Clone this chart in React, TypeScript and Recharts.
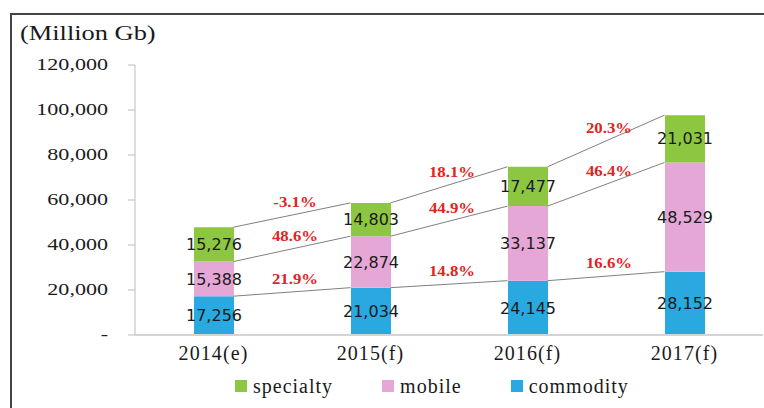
import React from "react"
import {
  ComposedChart,
  Bar,
  XAxis,
  YAxis,
  LabelList,
  ReferenceLine,
  Legend,
} from "recharts"

const categories = ["2014(e)", "2015(f)", "2016(f)", "2017(f)"]
const commodity = [17256, 21034, 24145, 28152]
const mobile = [15388, 22874, 33137, 48529]
const specialty = [15276, 14803, 17477, 21031]
const commodityGrowth = ["21.9%", "14.8%", "16.6%"]
const mobileGrowth = ["48.6%", "44.9%", "46.4%"]
const specialtyGrowth = ["-3.1%", "18.1%", "20.3%"]
const yTicks = [0, 20000, 40000, 60000, 80000, 100000, 120000]

const COLORS = { specialty: "#8dc641", mobile: "#e5a7d6", commodity: "#2aa9e0" }

const CHART_W = 764
const CHART_H = 408
const MARGIN = { top: 65, right: 1, left: 0, bottom: 10 }
const Y_AXIS_W = 135
const BAR_SIZE = 40
// half a bar, in x-axis units (one unit = one category band)
const BAND = (CHART_W - MARGIN.left - MARGIN.right - Y_AXIS_W) / categories.length
const HALF = BAR_SIZE / 2 / BAND

const data = categories.map((name, i) => ({
  idx: i,
  name,
  commodity: commodity[i],
  mobile: mobile[i],
  specialty: specialty[i],
}))

const commodityTop = commodity
const mobileTop = commodity.map((v, i) => v + mobile[i])
const totalTop = mobileTop.map((v, i) => v + specialty[i])

const levels = [
  { key: "c", tops: commodityTop, growth: commodityGrowth },
  { key: "m", tops: mobileTop, growth: mobileGrowth },
  { key: "s", tops: totalTop, growth: specialtyGrowth },
]

const fmt = (v: number) => v.toLocaleString("en-US")

function YTick({ x, y, payload }: any) {
  const label = payload.value === 0 ? "-" : fmt(payload.value)
  return (
    <text
      transform={`translate(${x - 18},${y}) scale(1.38,1)`}
      textAnchor="end"
      dominantBaseline="central"
      fontFamily="Liberation Serif"
      fontSize={16}
      fill="#1a1a1a"
    >
      {label}
    </text>
  )
}

function XTick({ x, y, payload }: any) {
  return (
    <text
      x={x}
      y={y}
      dy={17}
      textAnchor="middle"
      fontFamily="Liberation Serif"
      fontSize={20}
      letterSpacing={1.1}
      fill="#1a1a1a"
    >
      {categories[payload.value]}
    </text>
  )
}

function PctLabel({ viewBox, text }: any) {
  const cx = viewBox.x + viewBox.width / 2
  const cy = viewBox.y + viewBox.height / 2
  return (
    <text
      transform={`translate(${cx + 3},${cy - 13}) scale(1.12,1)`}
      textAnchor="middle"
      dominantBaseline="central"
      fontFamily="Liberation Serif"
      fontWeight="bold"
      fontSize={15}
      fill="#e3231e"
    >
      {text}
    </text>
  )
}

const legendItems = [
  { key: "specialty", color: COLORS.specialty },
  { key: "mobile", color: COLORS.mobile },
  { key: "commodity", color: COLORS.commodity },
]

function LegendContent() {
  return (
    <div
      style={{
        height: 24,
        display: "flex",
        alignItems: "center",
        paddingLeft: 235,
        gap: 49,
        fontFamily: "Liberation Serif",
        fontSize: 20,
        letterSpacing: 1,
        color: "#1a1a1a",
      }}
    >
      {legendItems.map((it) => (
        <span key={it.key} style={{ display: "flex", alignItems: "center", gap: 6 }}>
          <span style={{ width: 12, height: 12, background: it.color, display: "inline-block" }} />
          {it.key}
        </span>
      ))}
    </div>
  )
}

export default function App() {
  return (
    <div style={{ position: "absolute", left: 0, top: 0, width: CHART_W, height: CHART_H, background: "#fff" }}>
      <div
        style={{
          position: "absolute",
          left: 10,
          top: 13,
          width: CHART_W - 10,
          height: CHART_H - 13,
          borderLeft: "2px solid #444",
          borderTop: "2px solid #444",
        }}
      />
      <div
        style={{
          position: "absolute",
          left: 20,
          top: 21,
          lineHeight: "24px",
          fontFamily: "Liberation Serif",
          fontSize: 22,
          color: "#1a1a1a",
          transform: "scaleX(1.2)",
          transformOrigin: "left center",
        }}
      >
        (Million Gb)
      </div>
      <div style={{ position: "absolute", left: 0, top: 0 }}>
        <ComposedChart width={CHART_W} height={CHART_H} data={data} margin={MARGIN}>
          <XAxis
            type="number"
            dataKey="idx"
            domain={[-0.5, categories.length - 0.5]}
            ticks={categories.map((_, i) => i)}
            tick={<XTick />}
            tickLine={false}
            axisLine={{ stroke: "#d4d4d4", strokeWidth: 2 }}
            height={39}
            interval={0}
          />
          <YAxis
            domain={[0, 120000]}
            ticks={yTicks}
            tick={<YTick />}
            tickSize={7}
            tickLine={{ stroke: "#bdbdbd" }}
            axisLine={{ stroke: "#bdbdbd" }}
            width={Y_AXIS_W}
            interval={0}
          />
          <Legend verticalAlign="bottom" content={<LegendContent />} />
          <Bar dataKey="commodity" stackId="a" fill={COLORS.commodity} barSize={BAR_SIZE} isAnimationActive={false}>
            <LabelList dataKey="commodity" position="center" formatter={fmt} fill="#1a1a1a" fontFamily="DejaVu Sans" fontSize={16} />
          </Bar>
          <Bar dataKey="mobile" stackId="a" fill={COLORS.mobile} barSize={BAR_SIZE} isAnimationActive={false}>
            <LabelList dataKey="mobile" position="center" formatter={fmt} fill="#1a1a1a" fontFamily="DejaVu Sans" fontSize={16} />
          </Bar>
          <Bar dataKey="specialty" stackId="a" fill={COLORS.specialty} barSize={BAR_SIZE} isAnimationActive={false}>
            <LabelList dataKey="specialty" position="center" formatter={fmt} fill="#1a1a1a" fontFamily="DejaVu Sans" fontSize={16} />
          </Bar>
          {levels.flatMap((lvl) =>
            lvl.growth.map((g, i) => (
              <ReferenceLine
                key={`${lvl.key}${i}`}
                segment={[
                  { x: i + HALF, y: lvl.tops[i] },
                  { x: i + 1 - HALF, y: lvl.tops[i + 1] },
                ]}
                stroke="#808080"
                strokeWidth={1}
                label={<PctLabel text={g} />}
              />
            ))
          )}
        </ComposedChart>
      </div>
    </div>
  )
}
